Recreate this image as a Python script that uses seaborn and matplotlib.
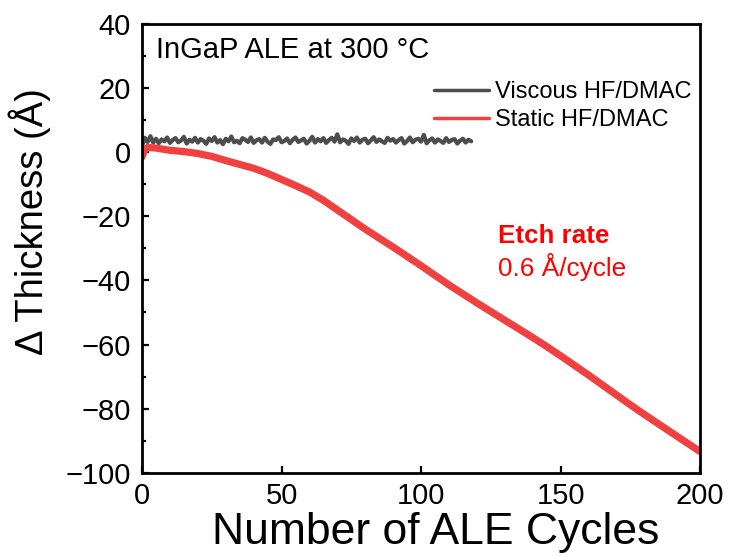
import numpy as np
import matplotlib
matplotlib.use('Agg')
import matplotlib.pyplot as plt
import seaborn as sns
from matplotlib.ticker import MultipleLocator

# Viscous HF/DMAC: one reading per cycle, 0..118
viscous = [2.0, 4.5, 3.2, 5.0, 3.0, 4.2, 2.8, 4.0, 3.4, 4.6, 2.9, 3.8, 4.4, 3.1, 3.7,
           4.8, 2.7, 3.9, 3.3, 4.5, 3.0, 4.1, 3.6, 2.6, 4.3, 3.5, 4.7, 3.0, 3.8, 2.5,
           4.2, 3.4, 4.9, 3.1, 3.6, 2.8, 4.4, 3.9, 3.2, 4.6, 2.9, 3.7, 4.1, 3.0, 4.5,
           3.3, 2.6, 4.0, 3.8, 4.7, 3.1, 3.5, 4.3, 2.8, 3.9, 4.6, 3.2, 3.7, 4.2, 2.7,
           3.6, 4.8, 3.0, 4.1, 3.4, 4.4, 2.9, 3.8, 4.5, 3.3, 5.6, 3.1, 4.0, 3.6, 2.6,
           4.3, 3.5, 4.6, 3.0, 3.9, 4.2, 2.8, 3.7, 4.7, 3.2, 4.0, 3.4, 2.9, 4.5, 3.6,
           4.1, 3.0, 3.8, 4.4, 2.7, 3.5, 4.6, 3.1, 3.9, 4.2, 3.3, 5.4, 2.8, 3.7, 4.3,
           3.0, 4.0, 3.5, 2.9, 4.4, 3.2, 3.8, 4.1, 2.7, 3.6, 4.2, 3.0, 3.9, 3.4]
viscous_cycles = np.arange(len(viscous))

# Static HF/DMAC
static_cycles = [0, 1, 2, 5, 10, 15, 20, 25, 30, 35, 40, 45, 50, 55, 60, 65, 70, 75, 80,
                 85, 90, 95, 100, 105, 110, 115, 120, 125, 130, 135, 140, 145, 150, 155,
                 160, 165, 170, 175, 180, 185, 190, 195, 200]
static = [-1.5, 0.8, 1.5, 1.3, 0.6, 0.2, -0.4, -1.3, -2.6, -3.8, -5.0, -6.6, -8.5, -10.4,
          -12.4, -15.0, -18.0, -21.0, -24.0, -26.8, -29.6, -32.5, -35.4, -38.4, -41.4,
          -44.2, -47.0, -49.7, -52.4, -55.1, -57.8, -60.6, -63.5, -66.5, -69.5, -72.6,
          -75.7, -78.8, -81.8, -84.7, -87.6, -90.5, -93.4]

sns.set_style('ticks')
plt.rcParams['font.family'] = ['Liberation Sans', 'DejaVu Sans']
plt.rcParams.update({'text.color': 'black', 'axes.labelcolor': 'black',
                     'xtick.color': 'black', 'ytick.color': 'black'})

fig = plt.figure(figsize=(7.31, 5.56), dpi=100)
ax = fig.add_axes([0.1943, 0.1498, 0.7633, 0.807])

sns.lineplot(x=viscous_cycles, y=viscous, ax=ax, color='#4d4d4d', lw=3,
             label='Viscous HF/DMAC')
sns.lineplot(x=static_cycles, y=static, ax=ax, color='#f04040', lw=5.2,
             label='Static HF/DMAC')

ax.set_xlim(0, 200)
ax.set_ylim(-100, 40)
ax.xaxis.set_major_locator(MultipleLocator(50))
ax.yaxis.set_major_locator(MultipleLocator(20))
ax.yaxis.set_minor_locator(MultipleLocator(10))
ax.tick_params(which='both', direction='in', top=False, right=False, labelsize=21, width=1.6)
ax.tick_params(which='major', length=5)
ax.tick_params(which='minor', length=3)
ax.tick_params(axis='x', pad=7)
ax.tick_params(axis='y', pad=8)
for s in ax.spines.values():
    s.set_linewidth(2.0)
    s.set_color('black')

ax.set_xlabel('Number of ALE Cycles', fontsize=32)
ax.xaxis.set_label_coords(0.527, -0.088)
ax.set_ylabel('Δ Thickness (Å)', fontsize=27.5)
ax.yaxis.set_label_coords(-0.163, 0.56)

ax.text(5, 32, 'InGaP ALE at 300 °C', fontsize=21, va='center', ha='left')
ax.text(127.5, -26, 'Etch rate', fontsize=18.7, fontweight='bold', color='red',
        va='center', ha='left')
ax.text(127.5, -35.9, '0.6 Å/cycle', fontsize=18.9, color='red', va='center', ha='left')

leg = ax.legend(loc='upper left', bbox_to_anchor=(0.524, 0.873), frameon=False,
                fontsize=17, handlelength=2.3, handletextpad=0.25, labelspacing=0.25,
                borderpad=0, borderaxespad=0)
for h in leg.get_lines():
    h.set_linewidth(2.5)

fig.savefig('out.png', dpi=100)
